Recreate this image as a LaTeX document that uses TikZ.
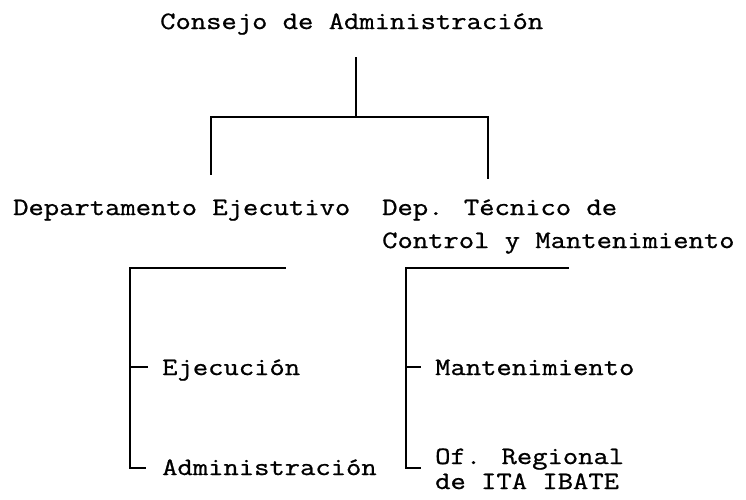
\documentclass[tikz,border=0pt]{standalone}
\usepackage{fontspec}
\newfontfamily\tw{Latin Modern Mono}[FakeStretch=1.19, FakeBold=0.9]
\begin{document}
\begin{tikzpicture}[x=1pt,y=-1pt,
  lbl/.style={inner sep=0pt, anchor=base west, font=\tw\fontsize{25}{33}\selectfont},
  ln/.style={line width=1.8pt, line cap=rect, line join=miter}]
\useasboundingbox (0,0) rectangle (746,499);
\fill[white] (0,0) rectangle (746,499);
% texts
\node[lbl] (consejo) at (160,29) {Consejo de Administración};
\node[lbl] (depejec) at (13,215) {Departamento Ejecutivo};
\node[lbl] (deptecA) at (382,215) {Dep. Técnico de};
\node[lbl] (deptecB) at (382,248) {Control y Mantenimiento};
\node[lbl] (ejec) at (162,375) {Ejecución};
\node[lbl] (admin) at (162,475) {Administración};
\node[lbl] (mant) at (435,375) {Mantenimiento};
\node[lbl] (ofreg) at (435,464) {Of. Regional};
\node[lbl] (ofregB) at (435,489) {de ITA IBATE};
% junction points
\coordinate (t0) at (356,58);
\coordinate (t1) at (356,117);
\coordinate (tl) at (211,117);
\coordinate (tr) at (488,117);
\coordinate (tl2) at (211,174);
\coordinate (tr2) at (488,178);
\coordinate (a0) at (285,268);
\coordinate (a1) at (130,268);
\coordinate (a2) at (130,468);
\coordinate (a3) at (145,468);
\coordinate (am) at (130,367);
\coordinate (ame) at (147,367);
\coordinate (b0) at (568,268);
\coordinate (b1) at (406,268);
\coordinate (b2) at (406,468);
\coordinate (b3) at (420,468);
\coordinate (bm) at (406,367);
\coordinate (bme) at (420,367);
% connectors
\draw[ln] (t0) -- (t1);
\draw[ln] (tl2) -- (tl) -- (tr) -- (tr2);
\draw[ln] (a0) -- (a1) -- (a2) -- (a3);
\draw[ln] (am) -- (ame);
\draw[ln] (b0) -- (b1) -- (b2) -- (b3);
\draw[ln] (bm) -- (bme);
\end{tikzpicture}
\end{document}
